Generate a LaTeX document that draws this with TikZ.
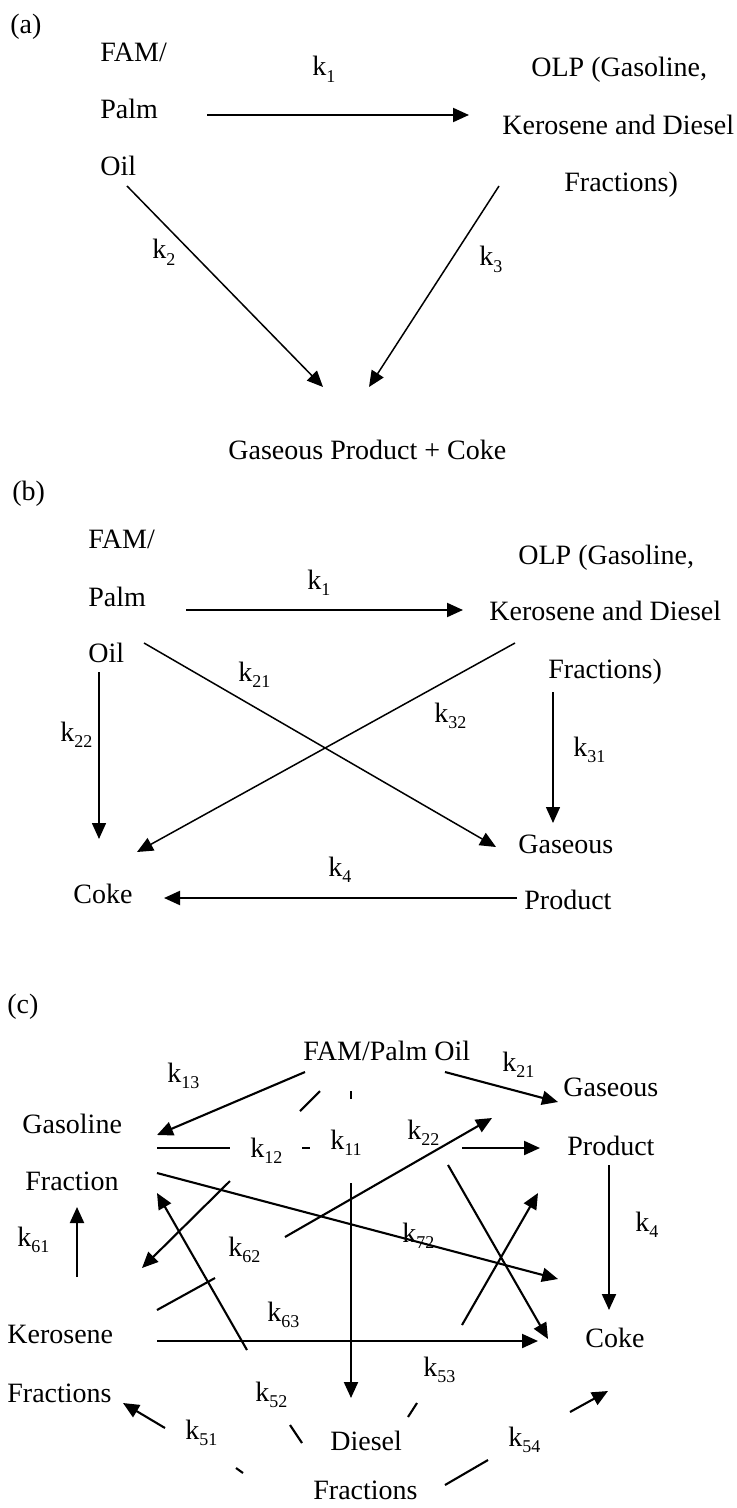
\documentclass[tikz,border=0pt]{standalone}
\usepackage{fontspec}
\setmainfont{Liberation Serif}
\usetikzlibrary{arrows.meta}
\newcommand{\krate}[1]{k\raisebox{-3.2pt}{\fontsize{9pt}{9pt}\selectfont #1}}
\tikzset{
  lbl/.style={inner sep=0pt, anchor=base west, font=\fontsize{14pt}{16pt}\selectfont},
  thinln/.style={line width=0.75pt},
  thickln/.style={line width=1.05pt},
  arr/.style={-{Triangle[length=8pt,width=7pt]}},
}
\begin{document}
\begin{tikzpicture}[x=0.5pt,y=-0.5pt]
\useasboundingbox (0,0) rectangle (736,1508);

% ---------------- (a) ----------------
\node[lbl] (alab)  at (10,34)  {(a)};
\node[lbl] (afam)  at (100,62) {FAM/};
\node[lbl] (apalm) at (100,119) {Palm};
\node[lbl] (aoil)  at (100,176) {Oil};
\node[lbl] (aolp)  at (531,77)  {OLP (Gasoline,};
\node[lbl] (aker)  at (502,135) {Kerosene and Diesel};
\node[lbl] (afrac) at (564,192) {Fractions)};
\node[lbl] (agpc)  at (228,459) {Gaseous Product + Coke};
\node[lbl] (ak1) at (312,76)  {\krate{1}};
\node[lbl] (ak2) at (152,259) {\krate{2}};
\node[lbl] (ak3) at (479,266) {\krate{3}};

\coordinate (a1s) at (207,115); \coordinate (a1e) at (469,115);
\coordinate (a2s) at (127,186); \coordinate (a2e) at (323,387);
\coordinate (a3s) at (499,186); \coordinate (a3e) at (369,387);
\draw[thickln,arr] (a1s) -- (a1e);
\draw[thinln,arr]  (a2s) -- (a2e);
\draw[thinln,arr]  (a3s) -- (a3e);

% ---------------- (b) ----------------
\node[lbl] (blab)  at (12,500)  {(b)};
\node[lbl] (bfam)  at (88,548)  {FAM/};
\node[lbl] (bpalm) at (88,606)  {Palm};
\node[lbl] (boil)  at (88,662)  {Oil};
\node[lbl] (bolp)  at (518,564) {OLP (Gasoline,};
\node[lbl] (bker)  at (489,620) {Kerosene and Diesel};
\node[lbl] (bfrac) at (548,678) {Fractions)};
\node[lbl] (bgas)  at (518,853) {Gaseous};
\node[lbl] (bprod) at (524,909) {Product};
\node[lbl] (bcoke) at (73,903)  {Coke};
\node[lbl] (bk1)  at (307,589) {\krate{1}};
\node[lbl] (bk21) at (238,681) {\krate{21}};
\node[lbl] (bk22) at (60,741)  {\krate{22}};
\node[lbl] (bk32) at (434,722) {\krate{32}};
\node[lbl] (bk31) at (573,756) {\krate{31}};
\node[lbl] (bk4)  at (328,876) {\krate{4}};

\coordinate (b1s)  at (186,610); \coordinate (b1e)  at (463,610);
\coordinate (b21s) at (144,643); \coordinate (b21e) at (496,847);
\coordinate (b32s) at (515,643); \coordinate (b32e) at (137,852);
\coordinate (b22s) at (99,672);  \coordinate (b22e) at (99,839);
\coordinate (b31s) at (553,692); \coordinate (b31e) at (553,823);
\coordinate (b4s)  at (517,898); \coordinate (b4e)  at (164,898);
\draw[thickln,arr] (b1s) -- (b1e);
\draw[thinln,arr]  (b21s) -- (b21e);
\draw[thinln,arr]  (b32s) -- (b32e);
\draw[thinln,arr]  (b22s) -- (b22e);
\draw[thinln,arr]  (b31s) -- (b31e);
\draw[thickln,arr] (b4s) -- (b4e);

% ---------------- (c) ----------------
\node[lbl] (clab)  at (7,1013)   {(c)};
\node[lbl] (cfam)  at (303,1060) {FAM/Palm Oil};
\node[lbl] (cgas)  at (563,1096) {Gaseous};
\node[lbl] (cprod) at (567,1155) {Product};
\node[lbl] (cgsl)  at (22,1133)  {Gasoline};
\node[lbl] (cfr1)  at (25,1190)  {Fraction};
\node[lbl] (cker)  at (7,1343)   {Kerosene};
\node[lbl] (cfr2)  at (7,1402)   {Fractions};
\node[lbl] (ccoke) at (585,1347) {Coke};
\node[lbl] (cdies) at (330,1450) {Diesel};
\node[lbl] (cfr3)  at (313,1499) {Fractions};

\node[lbl] (ck13) at (167,1082) {\krate{13}};
\node[lbl] (ck21) at (502,1071) {\krate{21}};
\node[lbl] (ck12) at (250,1157) {\krate{12}};
\node[lbl] (ck11) at (330,1149) {\krate{11}};
\node[lbl] (ck22) at (407,1139) {\krate{22}};
\node[lbl] (ck62) at (228,1256) {\krate{62}};
\node[lbl] (ck72) at (402,1242) {\krate{72}};
\node[lbl] (ck61) at (17,1246)  {\krate{61}};
\node[lbl] (ck4)  at (635,1231) {\krate{4}};
\node[lbl] (ck63) at (267,1321) {\krate{63}};
\node[lbl] (ck53) at (423,1376) {\krate{53}};
\node[lbl] (ck52) at (255,1401) {\krate{52}};
\node[lbl] (ck51) at (185,1439) {\krate{51}};
\node[lbl] (ck54) at (508,1446) {\krate{54}};

% end points of the reaction paths
\coordinate (c13s) at (305,1072); \coordinate (c13e) at (157,1135);
\coordinate (c21s) at (445,1072); \coordinate (c21e) at (558,1102);
\coordinate (c11a) at (351,1091); \coordinate (c11b) at (351,1099);
\coordinate (c11s) at (351,1183); \coordinate (c11e) at (351,1398);
\coordinate (c12a) at (157,1148); \coordinate (c12b) at (230,1148);
\coordinate (c12c) at (302,1148); \coordinate (c12d) at (310,1148);
\coordinate (c12s) at (462,1148); \coordinate (c12e) at (540,1148);
\coordinate (cdga) at (320,1091); \coordinate (cdgb) at (300,1111);
\coordinate (cdgs) at (230,1181); \coordinate (cdge) at (142,1268);
\coordinate (c62a) at (157,1310); \coordinate (c62b) at (215,1278);
\coordinate (c62s) at (285,1237); \coordinate (c62e) at (492,1118);
\coordinate (c52a) at (302,1443); \coordinate (c52b) at (290,1425);
\coordinate (c52s) at (247,1350); \coordinate (c52e) at (157,1193);
\coordinate (c51a) at (243,1473); \coordinate (c51b) at (236,1468);
\coordinate (c51s) at (165,1428); \coordinate (c51e) at (123,1403);
\coordinate (c53a) at (408,1417); \coordinate (c53b) at (417,1403);
\coordinate (c53s) at (462,1325); \coordinate (c53e) at (538,1193);
\coordinate (c54a) at (445,1485); \coordinate (c54b) at (488,1460);
\coordinate (c54s) at (570,1412); \coordinate (c54e) at (608,1391);
\coordinate (c72s) at (157,1173); \coordinate (c72e) at (558,1279);
\coordinate (ccxs) at (448,1165); \coordinate (ccxe) at (548,1339);
\coordinate (c63s) at (157,1341); \coordinate (c63e) at (538,1341);
\coordinate (c4s)  at (609,1165); \coordinate (c4e)  at (609,1310);
\coordinate (c61s) at (77,1277);  \coordinate (c61e) at (77,1207);

\begin{scope}[thickln]
\draw[arr] (c13s) -- (c13e);
\draw[arr] (c21s) -- (c21e);
\draw (c11a) -- (c11b);
\draw[arr] (c11s) -- (c11e);
\draw (c12a) -- (c12b);
\draw (c12c) -- (c12d);
\draw[arr] (c12s) -- (c12e);
\draw (cdga) -- (cdgb);
\draw[arr] (cdgs) -- (cdge);
\draw (c62a) -- (c62b);
\draw[arr] (c62s) -- (c62e);
\draw (c52a) -- (c52b);
\draw[arr] (c52s) -- (c52e);
\draw (c51a) -- (c51b);
\draw[arr] (c51s) -- (c51e);
\draw (c53a) -- (c53b);
\draw[arr] (c53s) -- (c53e);
\draw (c54a) -- (c54b);
\draw[arr] (c54s) -- (c54e);
\draw[arr] (c72s) -- (c72e);
\draw[arr] (ccxs) -- (ccxe);
\draw[arr] (c63s) -- (c63e);
\draw[arr] (c4s) -- (c4e);
\draw[arr] (c61s) -- (c61e);
\end{scope}
\end{tikzpicture}
\end{document}
